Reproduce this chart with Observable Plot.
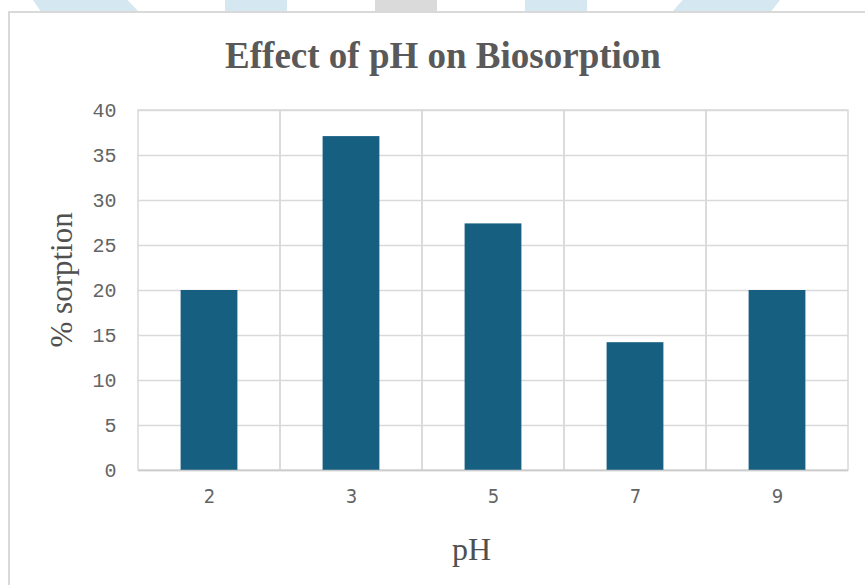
<!DOCTYPE html>
<html>
<head>
<meta charset="utf-8">
<script src="https://cdn.jsdelivr.net/npm/d3@7"></script>
<script src="https://cdn.jsdelivr.net/npm/@observablehq/plot@0.6"></script>
<style>
  html, body { margin: 0; padding: 0; background: #fff; width: 865px; height: 585px; overflow: hidden; }
  #wrap { position: relative; width: 865px; height: 585px; }
  .deco { position: absolute; top: 0; height: 11px; background: #d5e7f0; }
  #box { position: absolute; left: 8px; top: 11px; width: 900px; height: 620px; border-left: 2px solid #d9d9d9; border-top: 2px solid #d9d9d9; box-sizing: border-box; }
  #title { position: absolute; left: 0; width: 886px; top: 37px; text-align: center; font-family: "Liberation Serif", serif; font-weight: bold; font-size: 37px; line-height: 1; color: #595959; }
  #chart { position: absolute; left: 0; top: 90px; }
</style>
</head>
<body>
<div id="wrap">
  <div class="deco" style="left:33px;width:105px;clip-path:polygon(0 0,90% 0,100% 100%,7% 100%);"></div>
  <div class="deco" style="left:225px;width:62px;"></div>
  <div class="deco" style="left:375px;width:62px;background:#dadada;"></div>
  <div class="deco" style="left:525px;width:62px;"></div>
  <div class="deco" style="left:673px;width:107px;clip-path:polygon(9% 0,100% 0,92% 100%,0 100%);"></div>
  <div id="box"></div>
  <div id="title">Effect of pH on Biosorption</div>
  <div id="chart"></div>
</div>
<script>
const categories = ["2", "3", "5", "7", "9"];
const sorption = [20, 37.1, 27.4, 14.2, 20];
const yTicks = [0, 5, 10, 15, 20, 25, 30, 35, 40];

const data = categories.map((c, i) => ({ph: c, value: sorption[i]}));

const grid = "#d9d9d9";
const plot = Plot.plot({
  width: 865,
  height: 495,
  marginLeft: 138,
  marginRight: 17,
  marginTop: 20,
  marginBottom: 115,
  x: {domain: categories, padding: 0, label: null},
  y: {domain: [0, 40], label: null},
  marks: [
    Plot.gridY(yTicks, {stroke: grid, strokeOpacity: 1, strokeWidth: 1.5}),
    Plot.barY(categories, {x: d => d, y1: 0, y2: 40, fill: "none", stroke: grid, strokeWidth: 1.5}),
    Plot.barY(data, {x: "ph", y: "value", fill: "#165f81", insetLeft: 42.6, insetRight: 42.6}),
    Plot.ruleY([0], {stroke: "#cccccc", strokeWidth: 1.5}),
    Plot.axisY(yTicks, {tickSize: 0, tickPadding: 22, fontSize: 20, fontFamily: "Liberation Mono, monospace", fill: "#646464", label: null}),
    Plot.axisX({tickSize: 0, tickPadding: 18, fontSize: 20, fontFamily: "Liberation Sans Narrow, DejaVu Sans Condensed, sans-serif", fill: "#646464", label: null}),
    Plot.text(["% sorption"], {text: d => d, frameAnchor: "left", dx: -76, dy: 57, rotate: -90, fontSize: 31, fontFamily: "Liberation Serif, serif", fill: "#505050"}),
    Plot.text(["pH"], {text: d => d, frameAnchor: "bottom", dx: -22, dy: 89, fontSize: 32, fontFamily: "Liberation Serif, serif", fill: "#505050"})
  ]
});
document.getElementById("chart").appendChild(plot);
</script>
</body>
</html>
